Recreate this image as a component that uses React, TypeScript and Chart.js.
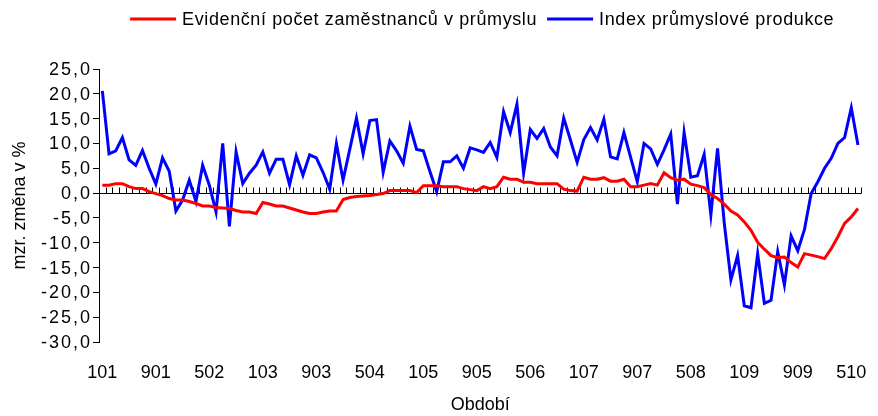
import React, { useEffect, useRef } from 'react';
import { Chart, registerables } from 'chart.js';

Chart.register(...registerables);

// Období (month + two-digit year), Jan 2001 – Jun 2010
const CATEGORIES: string[] = [
  '101', '201', '301', '401', '501', '601', '701', '801', '901', '1001', '1101', '1201',
  '102', '202', '302', '402', '502', '602', '702', '802', '902', '1002', '1102', '1202',
  '103', '203', '303', '403', '503', '603', '703', '803', '903', '1003', '1103', '1203',
  '104', '204', '304', '404', '504', '604', '704', '804', '904', '1004', '1104', '1204',
  '105', '205', '305', '405', '505', '605', '705', '805', '905', '1005', '1105', '1205',
  '106', '206', '306', '406', '506', '606', '706', '806', '906', '1006', '1106', '1206',
  '107', '207', '307', '407', '507', '607', '707', '807', '907', '1007', '1107', '1207',
  '108', '208', '308', '408', '508', '608', '708', '808', '908', '1008', '1108', '1208',
  '109', '209', '309', '409', '509', '609', '709', '809', '909', '1009', '1109', '1209',
  '110', '210', '310', '410', '510', '610',
];

const TICK_LABELS: string[] = [
  '101', '901', '502', '103', '903', '504', '105', '905', '506', '107', '907', '508', '109', '909', '510',
];

const Y_TICKS: number[] = [25, 20, 15, 10, 5, 0, -5, -10, -15, -20, -25, -30];

const SERIES_EMPLOYMENT_LABEL = 'Evidenční počet zaměstnanců v průmyslu';
const SERIES_PRODUCTION_LABEL = 'Index průmyslové produkce';

const EMPLOYMENT: number[] = [
  1.6, 1.6, 1.9, 1.9, 1.3, 0.9, 0.9, 0.3, -0.1, -0.5,
  -1.1, -1.4, -1.4, -1.7, -2.1, -2.6, -2.6, -2.9, -3.0, -3.1,
  -3.5, -3.8, -3.8, -4.1, -1.9, -2.2, -2.6, -2.6, -3.0, -3.4,
  -3.8, -4.1, -4.1, -3.8, -3.6, -3.6, -1.3, -0.9, -0.7, -0.6,
  -0.5, -0.3, -0.1, 0.5, 0.5, 0.5, 0.5, 0.1, 1.5, 1.5,
  1.5, 1.3, 1.3, 1.3, 0.9, 0.7, 0.5, 1.3, 0.9, 1.3,
  3.2, 2.8, 2.8, 2.2, 2.2, 1.9, 1.9, 1.9, 1.9, 0.8,
  0.5, 0.4, 3.2, 2.8, 2.8, 3.1, 2.4, 2.4, 2.8, 1.3,
  1.3, 1.6, 1.9, 1.6, 4.1, 3.1, 2.6, 2.8, 1.8, 1.5,
  1.1, -0.3, -1.1, -2.2, -3.6, -4.4, -5.8, -7.5, -9.9, -11.3,
  -12.6, -13.0, -12.9, -14.0, -14.9, -12.2, -12.5, -12.8, -13.2, -11.2,
  -8.8, -6.1, -4.8, -3.1,
];

const PRODUCTION: number[] = [
  20.6, 7.9, 8.5, 11.2, 6.7, 5.6, 8.6, 5.0, 1.8, 7.1,
  4.4, -3.6, -1.4, 2.6, -1.7, 5.6, 1.6, -3.8, 10.0, -6.7,
  8.3, 1.9, 4.0, 5.6, 8.3, 4.0, 6.8, 6.8, 1.7, 7.5,
  3.6, 7.7, 7.1, 4.2, 0.8, 10.0, 2.6, 8.8, 15.1, 7.9,
  14.6, 14.8, 4.2, 10.5, 8.5, 6.0, 13.5, 8.8, 8.5, 4.3,
  0.3, 6.3, 6.3, 7.5, 5.0, 9.1, 8.7, 8.2, 10.2, 7.2,
  16.4, 12.2, 17.9, 4.0, 12.8, 11.0, 13.0, 9.3, 7.5, 15.1,
  10.7, 6.2, 10.8, 13.2, 10.7, 14.9, 7.3, 6.9, 12.2, 7.2,
  2.3, 10.0, 8.9, 5.8, 8.7, 11.9, -2.2, 12.2, 3.2, 3.5,
  7.8, -4.4, 9.0, -6.0, -17.5, -12.6, -22.7, -23.1, -12.2, -22.2,
  -21.6, -11.8, -18.5, -8.6, -11.6, -7.3, -0.1, 2.3, 5.0, 7.0,
  10.0, 11.2, 17.2, 9.7,
];

const FONT = "'Liberation Sans', Arial, Helvetica, sans-serif";

const fmt = (v: number) => v.toFixed(1).replace('.', ',');

export default function App() {
  const ref = useRef<HTMLCanvasElement>(null);

  useEffect(() => {
    document.body.style.margin = '0';
    const canvas = ref.current;
    if (!canvas) return;

    const zeroAxisPlugin = {
      id: 'zeroAxis',
      beforeDatasetsDraw(chart: any) {
        const { ctx, chartArea, scales } = chart;
        const xs = scales.x;
        const ys = scales.y;
        const y0 = Math.round(ys.getPixelForValue(0)) + 0.5;
        const n = chart.data.labels.length;
        const step = xs.getPixelForValue(1) - xs.getPixelForValue(0);
        ctx.save();
        ctx.strokeStyle = '#000';
        ctx.lineWidth = 1;
        ctx.beginPath();
        ctx.moveTo(chartArea.left, y0);
        ctx.lineTo(chartArea.right, y0);
        for (let i = 1; i <= n; i++) {
          const px = Math.round(xs.getPixelForValue(i - 1) + step / 2) + 0.5;
          ctx.moveTo(px, y0 - 6);
          ctx.lineTo(px, y0);
        }
        ctx.stroke();
        ctx.restore();
      },
    };

    const textPlugin = {
      id: 'customText',
      afterDraw(chart: any) {
        const { ctx, chartArea, scales } = chart;
        const ys = scales.y;
        // y tick labels
        ctx.save();
        ctx.font = `18px ${FONT}`;
        ctx.fillStyle = '#000';
        ctx.textAlign = 'right';
        ctx.textBaseline = 'middle';
        ctx.letterSpacing = '2px';
        for (const v of Y_TICKS) {
          const py = ys.getPixelForValue(v);
          ctx.fillText(fmt(v), ys.right - 9 + 2, py + 1);
        }
        ctx.restore();

        // legend
        ctx.save();
        ctx.font = `18px ${FONT}`;
        ctx.letterSpacing = '0.6px';
        ctx.textBaseline = 'middle';
        ctx.textAlign = 'left';
        const items = chart.data.datasets.map((ds: any) => ({
          label: ds.label,
          color: ds.borderColor,
          w: ctx.measureText(ds.label).width,
        }));
        const lineLen = 46;
        const gapText = 6;
        const gapItem = 10;
        let total = 0;
        items.forEach((it: any, i: number) => {
          total += lineLen + gapText + it.w + (i > 0 ? gapItem : 0);
        });
        let x = (chartArea.left + chartArea.right) / 2 - total / 2 + 2;
        const y = 19;
        items.forEach((it: any) => {
          ctx.strokeStyle = it.color;
          ctx.lineWidth = 3;
          ctx.beginPath();
          ctx.moveTo(x, y);
          ctx.lineTo(x + lineLen, y);
          ctx.stroke();
          ctx.fillStyle = '#000';
          ctx.fillText(it.label, x + lineLen + gapText, y + 1);
          x += lineLen + gapText + it.w + gapItem;
        });
        ctx.restore();
      },
    };

    const chart = new Chart(canvas, {
      type: 'line',
      data: {
        labels: CATEGORIES,
        datasets: [
          {
            label: SERIES_EMPLOYMENT_LABEL,
            data: EMPLOYMENT,
            borderColor: '#FF0000',
            backgroundColor: '#FF0000',
            borderWidth: 3,
            pointRadius: 0,
            tension: 0,
            fill: false,
          },
          {
            label: SERIES_PRODUCTION_LABEL,
            data: PRODUCTION,
            borderColor: '#0000FF',
            backgroundColor: '#0000FF',
            borderWidth: 3,
            pointRadius: 0,
            tension: 0,
            fill: false,
          },
        ],
      },
      options: {
        responsive: false,
        animation: false,
        events: [],
        layout: { padding: { top: 69, right: 7, left: 0, bottom: 0 } },
        plugins: {
          legend: { display: false },
          tooltip: { enabled: false },
        },
        scales: {
          x: {
            offset: true,
            grid: { display: false, drawTicks: false, offset: true },
            border: { display: false },
            ticks: {
              autoSkip: false,
              maxRotation: 0,
              minRotation: 0,
              padding: 20,
              color: '#000',
              font: { family: FONT, size: 18 },
              callback: (_v: any, i: number) =>
                TICK_LABELS.includes(CATEGORIES[i]) ? CATEGORIES[i] : '',
            },
            title: {
              display: true,
              text: 'Období',
              color: '#000',
              font: { family: FONT, size: 18 },
              padding: { top: 0, bottom: 0 },
            },
            afterFit: (s: any) => {
              s.height = 74;
            },
          },
          y: {
            min: -30,
            max: 25,
            ticks: { stepSize: 5, display: false },
            grid: { drawOnChartArea: false, drawTicks: true, tickLength: 6, color: '#000' },
            border: { display: true, color: '#000', width: 1 },
            title: {
              display: true,
              text: 'mzr. změna v %',
              color: '#000',
              font: { family: FONT, size: 18 },
              padding: { top: 9, bottom: 0 },
            },
            afterFit: (s: any) => {
              s.width = 99;
            },
          },
        },
      } as any,
      plugins: [zeroAxisPlugin, textPlugin],
    });

    return () => chart.destroy();
  }, []);

  return <canvas ref={ref} width={878} height={416} style={{ display: 'block' }} />;
}
